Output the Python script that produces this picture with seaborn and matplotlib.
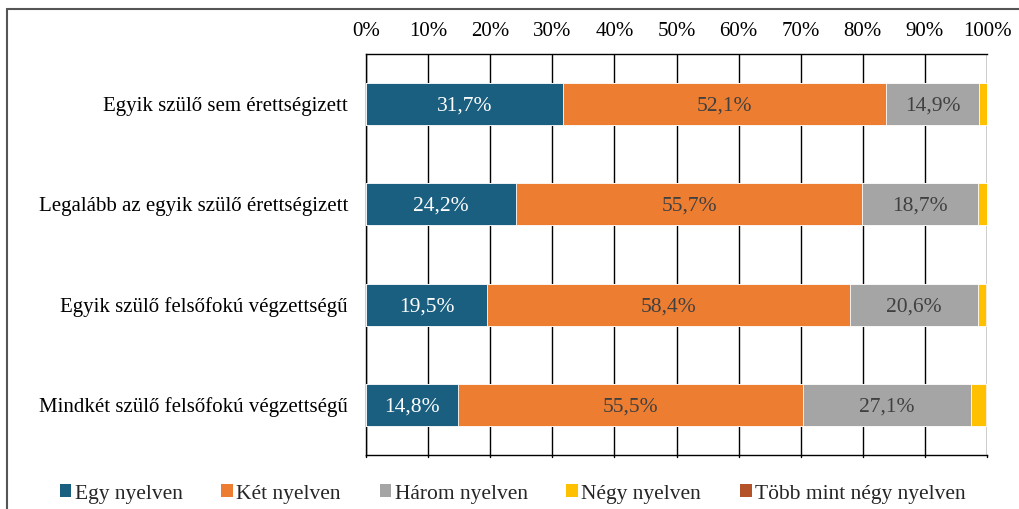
import numpy as np
import pandas as pd
import matplotlib
matplotlib.use("Agg")
import matplotlib.pyplot as plt
import seaborn as sns
from matplotlib.patches import Patch
from matplotlib.lines import Line2D

categories = ["Egyik szülő sem érettségizett",
              "Legalább az egyik szülő érettségizett",
              "Egyik szülő felsőfokú végzettségű",
              "Mindkét szülő felsőfokú végzettségű"]
series = ["Egy nyelven", "Két nyelven", "Három nyelven", "Négy nyelven", "Több mint négy nyelven"]
egy = [31.7, 24.2, 19.5, 14.8]
ket = [52.1, 55.7, 58.4, 55.5]
harom = [14.9, 18.7, 20.6, 27.1]
negy = [1.3, 1.4, 1.3, 2.4]
tobb = [0.0, 0.0, 0.2, 0.2]
colors = ["#1B5F80", "#ED7D31", "#A5A5A5", "#FFC000", "#B4522A"]
label_colors = ["white", "#404040", "#404040", None, None]
xticks = list(range(0, 101, 10))

sns.set_theme(style="white")
plt.rcParams["font.family"] = ["Liberation Serif", "DejaVu Serif"]

values = [egy, ket, harom, negy, tobb]
df = pd.DataFrame({"cat": categories})
cum = np.zeros(len(categories))
cums = []
for s, v in zip(series, values):
    cum = cum + np.array(v)
    df[s] = cum.copy()
    cums.append(cum.copy())

fig = plt.figure(figsize=(10.19, 5.09), dpi=100)
ax = fig.add_axes([366/1019, 1-455/509, (987-366)/1019, (455-54)/509])

for i in range(len(series) - 1, -1, -1):
    sns.barplot(data=df, y="cat", x=series[i], color=colors[i], orient="h",
                width=0.42, ax=ax, saturation=1, edgecolor="white", linewidth=0.6, zorder=3)

# labels
for i in range(3):
    starts = cums[i] - np.array(values[i])
    for j, v in enumerate(values[i]):
        ax.text(starts[j] + v/2, j + 0.02, f"{v:.1f}%".replace(".", ","), ha="center", va="center",
                color=label_colors[i], fontsize=15.5, zorder=5)

ax.set_xlim(0, 100)
ax.set_ylim(3.5, -0.5)
ax.set_xticks(xticks)
ax.set_xticklabels([f"{t}%" for t in xticks], fontsize=15, color="black")
ax.xaxis.tick_top()
ax.tick_params(axis="x", which="both", length=0, pad=9)
ax.tick_params(axis="y", length=0, pad=13, labelsize=15, labelcolor="black")
ax.set_xlabel("")
ax.set_ylabel("")
for xt in xticks:
    ax.axvline(xt, color="black", lw=1, zorder=1)
    ax.plot([xt, xt], [3.5, 3.52], color="black", lw=1, clip_on=False)
for sp in ax.spines.values():
    sp.set_color("black")
    sp.set_linewidth(1)
ax.spines["right"].set_visible(False)

# figure frame (partial, as in crop)
fig.add_artist(Line2D([7/1019, 1], [1-9/509, 1-9/509], color="#555555", lw=1.5, transform=fig.transFigure))
fig.add_artist(Line2D([7/1019, 7/1019], [0, 1-9/509], color="#555555", lw=1.5, transform=fig.transFigure))

handles = [Patch(facecolor=c, edgecolor="none") for c in colors]
fig.legend(handles, series, loc="center", bbox_to_anchor=(0.503, 1-494/509), ncol=5,
           frameon=False, fontsize=15.5, handlelength=0.55, handleheight=0.55, handletextpad=0.15,
           columnspacing=1.8)

fig.savefig("out.png", dpi=100)
